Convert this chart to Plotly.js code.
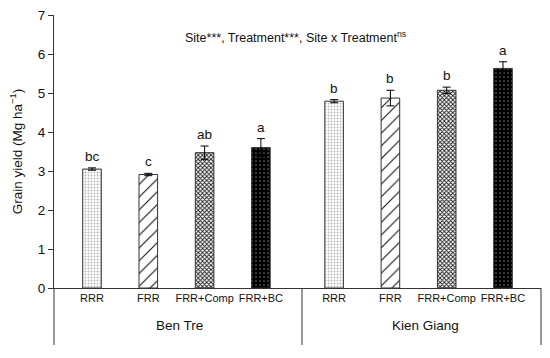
<!DOCTYPE html>
<html><head><meta charset="utf-8">
<script src="https://cdn.plot.ly/plotly-3.0.1.min.js"></script>
<style>html,body{margin:0;padding:0;background:#fff}#chart{width:550px;height:358px}</style>
</head><body><div id="chart"></div>
<script>
const sites = ["Ben Tre", "Kien Giang"];
const treatments = ["RRR", "FRR", "FRR+Comp", "FRR+BC"];
const yieldBenTre = [3.05, 2.91, 3.47, 3.60];
const errBenTre = [0.03, 0.03, 0.17, 0.23];
const lettersBenTre = ["bc", "c", "ab", "a"];
const yieldKienGiang = [4.79, 4.87, 5.07, 5.63];
const errKienGiang = [0.04, 0.20, 0.08, 0.17];
const lettersKienGiang = ["b", "b", "b", "a"];
const yTicks = [0, 1, 2, 3, 4, 5, 6, 7];

const groupOffset = [0, 4.3];
const patterns = [
  {shape: ".", bgcolor: "#ffffff", fgcolor: "#b8b8b8", size: 3, solidity: 0.3},
  {shape: "/", bgcolor: "#ffffff", fgcolor: "#111111", size: 9, solidity: 0.12},
  {shape: "x", bgcolor: "#ffffff", fgcolor: "#1a1a1a", size: 3, solidity: 0.5},
  {shape: ".", bgcolor: "#000000", fgcolor: "#6a6a6a", size: 4, solidity: 0.14}
];
const vals = [yieldBenTre, yieldKienGiang];
const errs = [errBenTre, errKienGiang];
const letters = [lettersBenTre, lettersKienGiang];
const FONT = "Liberation Sans, Arial, sans-serif";

const traces = treatments.map((t, ti) => ({
  type: "bar",
  name: t,
  x: sites.map((s, si) => groupOffset[si] + ti),
  y: sites.map((s, si) => vals[si][ti]),
  width: 0.33,
  marker: {color: "#ffffff", line: {color: "#333333", width: 1}, pattern: patterns[ti]},
  error_y: {type: "data", array: sites.map((s, si) => errs[si][ti]), color: "#000", thickness: 1, width: 4},
  hoverinfo: "x+y"
}));

const annotations = [];
sites.forEach((s, si) => {
  treatments.forEach((t, ti) => {
    annotations.push({
      x: groupOffset[si] + ti, y: vals[si][ti] + errs[si][ti], xref: "x", yref: "y",
      text: letters[si][ti], showarrow: false, yanchor: "bottom", yshift: 2,
      font: {family: FONT, size: 13.5, color: "#111"}
    });
  });
});
const groupCenters = [179, 425];
sites.forEach((s, si) => {
  annotations.push({
    x: (groupCenters[si] - 54) / 487, y: -0.138, xref: "paper", yref: "paper",
    text: s, showarrow: false, yanchor: "middle", xanchor: "center",
    font: {family: FONT, size: 13.5, color: "#111"}
  });
});
annotations.push({
  x: 0.497, y: 0.919, xref: "paper", yref: "paper",
  text: "Site***, Treatment***, Site x Treatment<sup>ns</sup>", showarrow: false,
  xanchor: "center", yanchor: "middle",
  font: {family: FONT, size: 12.5, color: "#111"}
});

const tickvals = [], ticktext = [];
sites.forEach((s, si) => treatments.forEach((t, ti) => { tickvals.push(groupOffset[si] + ti); ticktext.push(t); }));

const lineStyle = {color: "#333333", width: 1};
const layout = {
  width: 550, height: 358,
  margin: {l: 54, r: 9, t: 15, b: 70},
  paper_bgcolor: "#fff", plot_bgcolor: "#fff",
  showlegend: false,
  font: {family: FONT, color: "#111"},
  xaxis: {
    range: [-0.675, 7.975], tickvals: tickvals, ticktext: ticktext, tickangle: 0,
    showgrid: false, zeroline: false, showline: true, linecolor: "#333", linewidth: 1,
    ticks: "", tickfont: {size: 11, color: "#111"}, fixedrange: true
  },
  yaxis: {
    range: [0, 7], tickvals: yTicks, showgrid: false, zeroline: false,
    showline: true, linecolor: "#333", linewidth: 1, ticks: "outside", ticklen: 5, tickcolor: "#333",
    tickfont: {size: 13.5, color: "#111"},
    title: {text: "Grain yield (Mg ha<sup>−1</sup>)", font: {size: 13.5, color: "#111"}, standoff: 12},
    fixedrange: true
  },
  shapes: [
    {type: "line", xref: "paper", yref: "paper", x0: 0, x1: 0, y0: -0.209, y1: 0, line: lineStyle},
    {type: "line", xref: "x", yref: "paper", x0: 3.73, x1: 3.73, y0: -0.209, y1: 0, line: lineStyle},
    {type: "line", xref: "paper", yref: "paper", x0: 1, x1: 1, y0: -0.209, y1: 0, line: lineStyle}
  ],
  annotations: annotations
};
Plotly.newPlot("chart", traces, layout, {displayModeBar: false, staticPlot: true});
</script></body></html>
